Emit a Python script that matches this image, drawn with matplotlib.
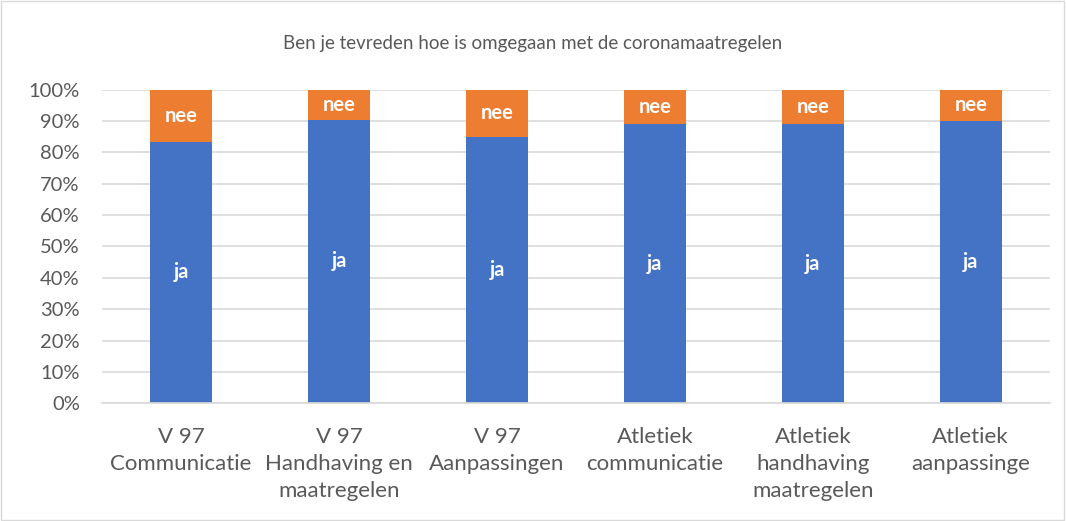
import matplotlib
matplotlib.use("Agg")
import matplotlib.pyplot as plt
from matplotlib.patches import Rectangle

categories = ["V 97\nCommunicatie", "V 97\nHandhaving en\nmaatregelen", "V 97\nAanpassingen",
              "Atletiek\ncommunicatie", "Atletiek\nhandhaving\nmaatregelen", "Atletiek\naanpassinge"]
ja = [83.4, 90.4, 85.0, 88.9, 88.9, 90.1]
nee = [100 - v for v in ja]
ytick_vals = list(range(0, 101, 10))
ytick_labels = [f"{v}%" for v in ytick_vals]
title = "Ben je tevreden hoe is omgegaan met de coronamaatregelen"

plt.rcParams['font.family'] = ['Lato', 'DejaVu Sans']
grey = "#595959"

fig = plt.figure(figsize=(10.66, 5.21), dpi=100)
ax = fig.add_axes([0.0957, 0.2259, 0.889, 0.6023])

x = list(range(len(categories)))
ax.bar(x, ja, width=0.39, color="#4472C4", zorder=3)
ax.bar(x, nee, bottom=ja, width=0.39, color="#ED7D31", zorder=3)

for i in x:
    ax.text(i, ja[i] / 2, "ja", ha="center", va="center", color="white",
            fontsize=14.5, fontweight="bold", zorder=4)
    ax.text(i, ja[i] + nee[i] / 2, "nee", ha="center", va="center", color="white",
            fontsize=14.5, fontweight="bold", zorder=4)

ax.set_xlim(-0.5, len(categories) - 0.5)
ax.set_ylim(0, 100)
ax.set_yticks(ytick_vals)
ax.set_yticklabels(ytick_labels)
ax.set_xticks(x)
ax.set_xticklabels(categories, linespacing=1.45)
ax.tick_params(axis="both", length=0, colors=grey)
ax.tick_params(axis="x", pad=17, labelsize=16)
ax.tick_params(axis="y", pad=16, labelsize=14.5)
ax.yaxis.grid(True, color="#D9D9D9", linewidth=1.2, zorder=0)
for s in ["top", "right", "left"]:
    ax.spines[s].set_visible(False)
ax.spines["bottom"].set_color("#D9D9D9")
ax.spines["bottom"].set_linewidth(1.2)
ax.spines["bottom"].set_zorder(3)

fig.text(0.5, 1 - 43 / 521, title, ha="center", va="center", fontsize=13.5, color=grey)
fig.patches.append(Rectangle((0.001, 0.002), 0.997, 0.996, transform=fig.transFigure,
                             fill=False, edgecolor="#D9D9D9", linewidth=1))

fig.savefig("out.png", dpi=100)
